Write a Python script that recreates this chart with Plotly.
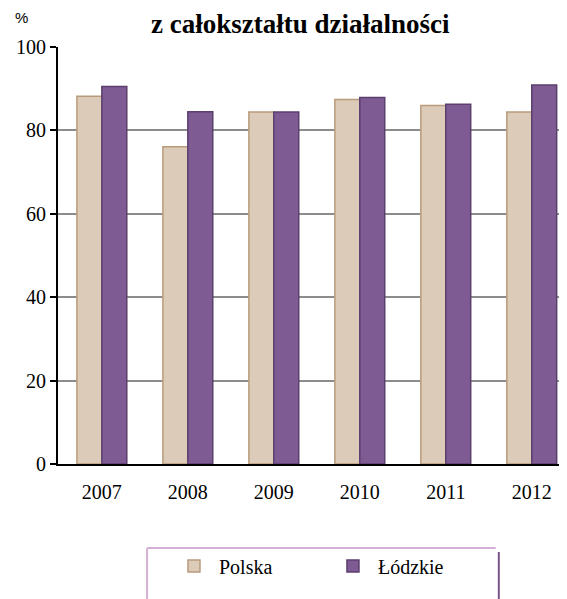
import plotly.graph_objects as go

years = ["2007", "2008", "2009", "2010", "2011", "2012"]
polska = [88.2, 76.1, 84.4, 87.4, 86.0, 84.4]
lodzkie = [90.5, 84.5, 84.4, 87.9, 86.3, 90.9]

serif = "Liberation Serif, Times New Roman, serif"

fig = go.Figure()
fig.add_trace(go.Bar(
    x=years, y=polska, name="Polska",
    marker=dict(color="#dccbb9", line=dict(color="#b99b7b", width=1.5)),
))
fig.add_trace(go.Bar(
    x=years, y=lodzkie, name="Łódzkie",
    marker=dict(color="#7f5b93", line=dict(color="#5b3f6d", width=1.5)),
))

# the page puts the chart 8px in from the top-left corner
fig.update_layout(
    width=559, height=591,
    margin=dict(l=50, r=0, t=39, b=135),
    paper_bgcolor="white", plot_bgcolor="white",
    barmode="group", bargap=0.42, bargroupgap=0,
    font=dict(family=serif, size=20, color="black"),
    title=dict(text="<b>z całokształtu działalności</b>", x=0.523, xanchor="center",
               xref="container", yref="container", y=0.973, yanchor="middle",
               pad=dict(t=0, b=0), font=dict(family=serif, size=27)),
    showlegend=True,
    legend=dict(orientation="h", x=0.218, xanchor="left", y=-0.2446, yanchor="middle",
                font=dict(family=serif, size=20), itemwidth=40, entrywidth=104,
                bgcolor="rgba(0,0,0,0)"),
    annotations=[dict(text="%", xref="paper", yref="paper", x=-0.088, y=1.045,
                      xanchor="left", yanchor="bottom", showarrow=False,
                      font=dict(family="Liberation Sans, Arial, sans-serif", size=15))],
    shapes=[
        dict(type="line", xref="paper", yref="paper", x0=0.175, x1=0.86, y0=-0.2014, y1=-0.2014,
             line=dict(color="#d6afd6", width=2)),
        dict(type="line", xref="paper", yref="paper", x0=0.175, x1=0.175, y0=-0.2014, y1=-0.33,
             line=dict(color="#d6afd6", width=2)),
        dict(type="line", xref="paper", yref="paper", x0=0.866, x1=0.866, y0=-0.211, y1=-0.33,
             line=dict(color="#7a5488", width=2)),
    ],
)

fig.update_xaxes(
    range=[-0.51, 5.41], showline=True, linecolor="black", linewidth=2,
    ticks="", showgrid=False, ticklabelstandoff=9,
)
fig.update_yaxes(
    range=[0, 100], tickvals=[0, 20, 40, 60, 80, 100],
    showline=True, linecolor="black", linewidth=2,
    ticks="outside", ticklen=6, tickwidth=2, tickcolor="black",
    showgrid=True, gridcolor="#8c8c8c", gridwidth=2, zeroline=False,
)

fig.write_html("out.html")
